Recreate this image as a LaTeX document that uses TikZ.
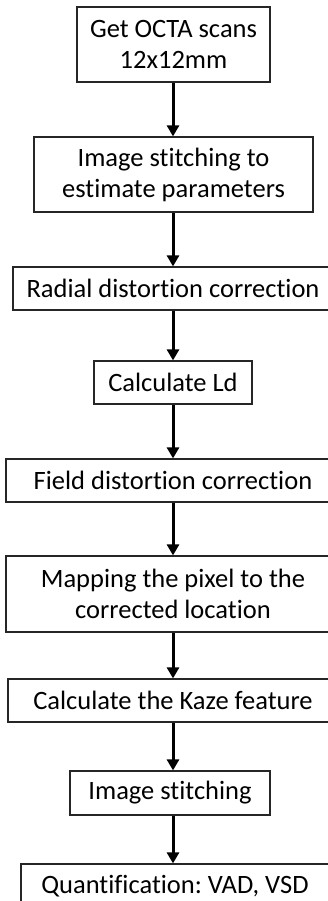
\documentclass[tikz,border=0pt]{standalone}
\usepackage{fontspec}
\setmainfont{Carlito}[Ligatures={NoCommon}]
\frenchspacing
\usetikzlibrary{arrows.meta}
\tikzset{
  stepbox/.style={draw=black!85, line width=1.2pt, rectangle, inner sep=0pt,
    align=center, font=\fontsize{26.5}{31}\selectfont},
  flow/.style={line width=3pt, -{Triangle[width=12pt,length=11pt]}}
}
\begin{document}
\begin{tikzpicture}[x=1pt,y=1pt]
  \useasboundingbox (0,0) rectangle (327,-901);
  \coordinate (spine) at (173,0);
  \node[stepbox, minimum width=193pt, minimum height=75pt] (b1) at (173.5,-44.5) {Get OCTA scans\\12x12mm};
  \node[stepbox, minimum width=279pt, minimum height=75pt] (b2) at (173.5,-174.5) {Image stitching to\\estimate parameters};
  \node[stepbox, minimum width=320pt, minimum height=43pt] (b3) at (173,-288.5) {Radial distortion correction};
  \node[stepbox, minimum width=158pt, minimum height=43pt] (b4) at (173,-382.5) {Calculate Ld};
  \node[stepbox, minimum width=334pt, minimum height=43pt] (b5) at (173,-480.5) {Field distortion correction};
  \node[stepbox, minimum width=334pt, minimum height=76pt] (b6) at (173,-594) {Mapping the pixel to the\\corrected location};
  \node[stepbox, minimum width=330pt, minimum height=43pt] (b7) at (173,-700.5) {Calculate the Kaze feature};
  \node[stepbox, minimum width=200pt, minimum height=44pt] (b8) at (170,-793) {Image stitching};
  \node[stepbox, minimum width=308pt, minimum height=44pt] (b9) at (175,-886) {Quantification: VAD, VSD};
  \foreach \a/\b in {b1/b2,b2/b3,b3/b4,b4/b5,b5/b6,b6/b7,b7/b8,b8/b9}
    \draw[flow] (\a.south -| spine) -- (\b.north -| spine);
\end{tikzpicture}
\end{document}
